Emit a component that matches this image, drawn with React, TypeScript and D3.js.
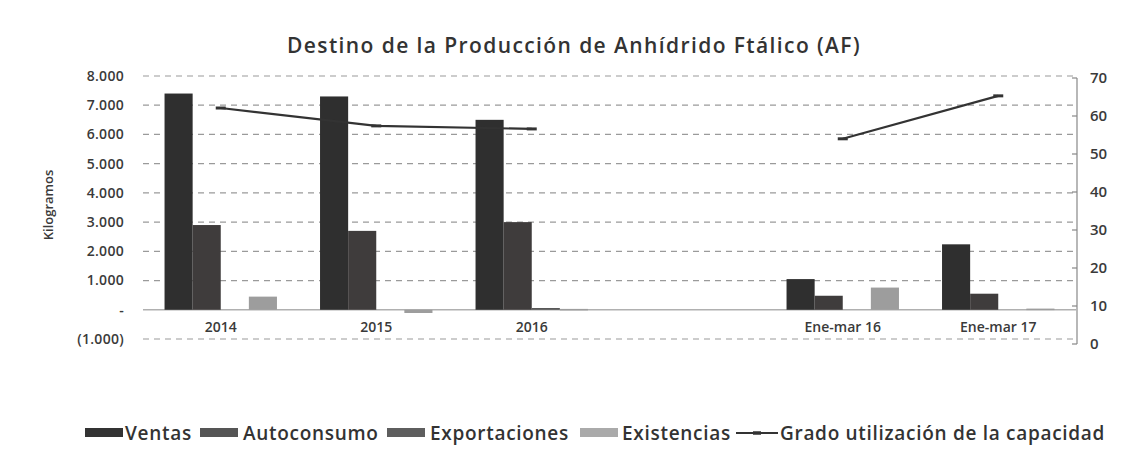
import React from "react";
import * as d3 from "d3";

const categories = ["2014", "2015", "2016", "", "Ene-mar 16", "Ene-mar 17"];
const seriesNames = ["Ventas", "Autoconsumo", "Exportaciones", "Existencias"];
const ventas = [7400, 7300, 6500, 0, 1050, 2240];
const autoconsumo = [2900, 2700, 3000, 0, 480, 550];
const exportaciones = [0, 0, 60, 0, 0, 0];
const existencias = [450, -110, 30, 0, 760, 40];
const gradoUtilizacion: (number | null)[] = [62.1, 57.4, 56.6, null, 54, 65.3];
const leftTicks = [-1000, 0, 1000, 2000, 3000, 4000, 5000, 6000, 7000, 8000];
const rightTicks = [0, 10, 20, 30, 40, 50, 60, 70];
const lineName = "Grado utilización de la capacidad";
const title = "Destino de la Producción de Anhídrido Ftálico (AF)";
const yTitle = "Kilogramos";

const seriesValues = [ventas, autoconsumo, exportaciones, existencias];
const barColors = ["#2f2f2f", "#3f3c3c", "#555555", "#9d9d9d"];
const legendColors = ["#333333", "#555555", "#5e5e5e", "#aaaaaa"];

const FONT = "'Open Sans', 'DejaVu Sans', sans-serif";

function fmtLeft(v: number): string {
  if (v === 0) return "-";
  const s = d3.format(",")(Math.abs(v)).replace(/,/g, ".");
  return v < 0 ? `(${s})` : s;
}

export default function App() {
  const W = 1132;
  const H = 450;
  const x0 = d3.scaleBand<string>().domain(categories.map((c, i) => String(i))).range([143, 1076]).paddingInner(0.277).paddingOuter(0.1385);
  const x1 = d3.scaleBand<string>().domain(seriesNames).range([0, x0.bandwidth()]);
  const yL = d3.scaleLinear().domain([-1000, 8000]).range([339, 76]);
  const yR = d3.scaleLinear().domain([0, 70]).range([344, 78]);

  const line = d3
    .line<number | null>()
    .defined((d) => d !== null)
    .x((_, i) => (x0(String(i)) as number) + x0.bandwidth() / 2)
    .y((d) => yR(d as number));

  const legendItems = [
    { type: "bar", name: "Ventas", color: legendColors[0], sx: 85, sw: 38, tx: 125 },
    { type: "bar", name: "Autoconsumo", color: legendColors[1], sx: 200, sw: 38, tx: 243 },
    { type: "bar", name: "Exportaciones", color: legendColors[2], sx: 387, sw: 38, tx: 430 },
    { type: "bar", name: "Existencias", color: legendColors[3], sx: 580, sw: 38, tx: 622 },
    { type: "line", name: lineName, color: "#333", sx: 736, sw: 42, tx: 780 },
  ];
  const legendY = 433;

  return (
    <svg width={W} height={H} style={{ display: "block", position: "absolute", left: 0, top: 0, background: "#fff" }}>
      <text x={574} y={53} textAnchor="middle" fontFamily={FONT} fontSize={21} fontWeight={600} letterSpacing={1.4} fill="#333">
        {title}
      </text>
      {/* gridlines */}
      {leftTicks.map((t) => (
        <line
          key={t}
          x1={143}
          x2={1076}
          y1={yL(t)}
          y2={yL(t)}
          stroke={t === 0 ? "#b0b0b0" : "#9a9a9a"}
          strokeWidth={t === 0 ? 1.5 : 1.2}
          strokeDasharray={t === 0 ? undefined : "6 5"}
        />
      ))}
      {/* left tick labels */}
      {leftTicks.map((t) => (
        <text key={t} x={124} y={yL(t)} dy="0.35em" textAnchor="end" fontFamily={FONT} fontSize={14} fontWeight={600} letterSpacing={0.3} fill="#3a3a3a">
          {fmtLeft(t)}
        </text>
      ))}
      <text
        transform={`translate(53,${205}) rotate(-90)`}
        textAnchor="middle"
        fontFamily={FONT}
        fontSize={13}
        fontWeight={600}
        fill="#3a3a3a"
      >
        {yTitle}
      </text>
      {/* bars */}
      {categories.map((c, i) => (
        <g key={i} transform={`translate(${x0(String(i))},0)`}>
          {seriesNames.map((s, j) => {
            const v = seriesValues[j][i];
            if (v === 0) return null;
            const y = Math.min(yL(v), yL(0));
            const h = Math.abs(yL(v) - yL(0));
            return <rect key={s} x={x1(s)} y={y} width={x1.bandwidth()} height={Math.max(h, 1.5)} fill={barColors[j]} />;
          })}
        </g>
      ))}
      {/* category labels */}
      {categories.map((c, i) => (
        <text
          key={i}
          x={(x0(String(i)) as number) + x0.bandwidth() / 2}
          y={327}
          dy="0.35em"
          textAnchor="middle"
          fontFamily={FONT}
          fontSize={14}
          fontWeight={600}
          fill="#3a3a3a"
        >
          {c}
        </text>
      ))}
      {/* line */}
      <path d={line(gradoUtilizacion) || ""} fill="none" stroke="#333" strokeWidth={2.2} />
      {gradoUtilizacion.map((v, i) =>
        v === null ? null : (
          <line
            key={i}
            x1={(x0(String(i)) as number) + x0.bandwidth() / 2 - 5}
            x2={(x0(String(i)) as number) + x0.bandwidth() / 2 + 5}
            y1={yR(v)}
            y2={yR(v)}
            stroke="#333"
            strokeWidth={3}
          />
        )
      )}
      {/* right axis */}
      <line x1={1077} x2={1077} y1={yR(70)} y2={yR(0)} stroke="#888" strokeWidth={1.2} />
      {rightTicks.map((t) => (
        <g key={t}>
          <line x1={1072} x2={1077} y1={yR(t)} y2={yR(t)} stroke="#888" strokeWidth={1.2} />
          <text x={1090} y={yR(t)} dy="0.35em" fontFamily={FONT} fontSize={15} fontWeight={600} fill="#3a3a3a">
            {t}
          </text>
        </g>
      ))}
      {/* legend */}
      {legendItems.map((it) => (
        <g key={it.name}>
          {it.type === "bar" ? (
            <rect x={it.sx} y={legendY - 5} width={it.sw} height={9} fill={it.color} />
          ) : (
            <g>
              <line x1={it.sx} x2={it.sx + it.sw} y1={legendY} y2={legendY} stroke="#333" strokeWidth={2} />
              <line x1={it.sx + it.sw / 2 - 4} x2={it.sx + it.sw / 2 + 4} y1={legendY} y2={legendY} stroke="#333" strokeWidth={3.5} />
            </g>
          )}
          <text x={it.tx} y={legendY} dy="0.35em" fontFamily={FONT} fontSize={19} fontWeight={600} letterSpacing={0.7} fill="#333">
            {it.name}
          </text>
        </g>
      ))}
    </svg>
  );
}
